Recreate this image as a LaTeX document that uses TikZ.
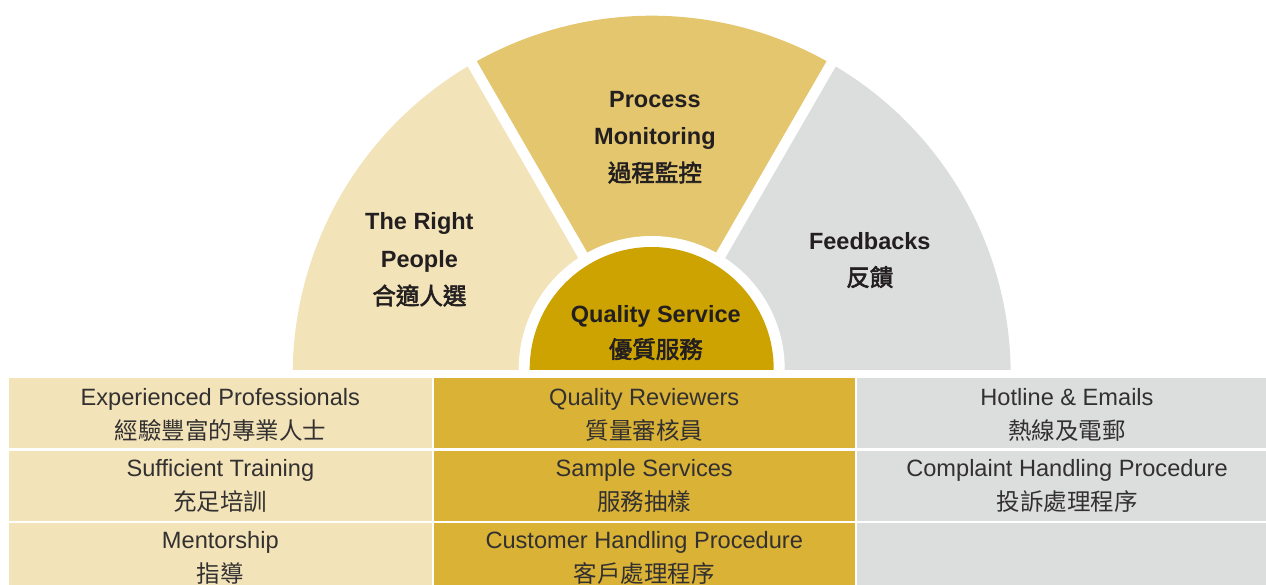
\documentclass[tikz,border=0pt]{standalone}
\usepackage{fontspec}
\setmainfont{Liberation Sans}
\newfontfamily\cjk{Noto Sans CJK TC}
\newfontfamily\cjkb[FakeBold=2.5]{Noto Sans CJK TC}
\definecolor{secL}{HTML}{F2E3B8}
\definecolor{secM}{HTML}{E3C66E}
\definecolor{secR}{HTML}{DCDDDD}
\definecolor{core}{HTML}{CCA300}
\definecolor{colM}{HTML}{D9B236}
\definecolor{txt}{HTML}{231F20}
\definecolor{txtl}{HTML}{333031}
\tikzset{
  lbl/.style={anchor=base,inner sep=0pt,text=txt,font=\fontsize{23.5}{28}\selectfont\bfseries},
  lblz/.style={anchor=base,inner sep=0pt,text=txt,font=\fontsize{23.5}{28}\selectfont\cjkb},
  en/.style={anchor=base,inner sep=0pt,text=txtl,font=\fontsize{23.6}{28}\selectfont},
  zh/.style={anchor=base,inner sep=0pt,text=txtl,font=\fontsize{23.5}{28}\selectfont\cjk},
  cell/.style={draw=none,inner sep=0pt,minimum height=70.3pt},
  cellA/.style={cell,fill=secL,minimum width=422.7pt},
  cellB/.style={cell,fill=colM,minimum width=421.5pt},
  cellC/.style={cell,fill=secR,minimum width=422pt}
}
\begin{document}
\begin{tikzpicture}[x=1pt,y=1pt]
\useasboundingbox (0,0) rectangle (1266,-585);
\coordinate (C) at (651.7,-374.7);
\coordinate (Q) at (651.7,-369);
\begin{scope}
  \clip (0,-369) rectangle (1266,0);
  \fill[secL] (C) -- ++(180:359) arc[start angle=180,end angle=120,radius=359] -- cycle;
  \fill[secM] (C) -- ++(120:359) arc[start angle=120,end angle=60,radius=359] -- cycle;
  \fill[secR] (C) -- ++(60:359) arc[start angle=60,end angle=0,radius=359] -- cycle;
  \draw[white,line width=10.4] (C) -- ++(120:372);
  \draw[white,line width=10.4] (C) -- ++(60:372);
  \fill[white] (Q) circle[radius=133];
  \fill[core] (Q) circle[radius=122];
\end{scope}
% semicircle labels
\node[lbl] (rp1) at (419.4,-230) {The Right};
\node[lbl] (rp2) at (419.4,-267.5) {People};
\node[lblz] (rp3) at (419.4,-304.5) {合適人選};
\node[lbl] (pm1) at (654.9,-107.5) {Process};
\node[lbl] (pm2) at (654.9,-145) {Monitoring};
\node[lblz] (pm3) at (654.9,-181.5) {過程監控};
\node[lbl] (fb1) at (869.8,-250) {Feedbacks};
\node[lblz] (fb2) at (869.8,-286) {反饋};
\node[lbl] (qs1) at (655.8,-322) {Quality Service};
\node[lblz] (qs2) at (655.8,-358) {優質服務};
% table cells
\node[cellA] (a1) at (220.35,-413.15) {};
\node[cellA] (a2) at (220.35,-485.65) {};
\node[cellA] (a3) at (220.35,-557.85) {};
\node[cellB] (b1) at (644.25,-413.15) {};
\node[cellB] (b2) at (644.25,-485.65) {};
\node[cellB] (b3) at (644.25,-557.85) {};
\node[cellC] (c1) at (1068,-413.15) {};
\node[cellC] (c2) at (1068,-485.65) {};
\node[cellC] (c3) at (1068,-557.85) {};
% table texts
\node[en] (a1e) at (220.35,-405) {Experienced Professionals};
\node[zh] (a1z) at (220.35,-439) {經驗豐富的專業人士};
\node[en] (a2e) at (220.35,-476.7) {Sufficient Training};
\node[zh] (a2z) at (220.35,-510.7) {充足培訓};
\node[en] (a3e) at (220.35,-548.3) {Mentorship};
\node[zh] (a3z) at (220.35,-582.3) {指導};
\node[en] (b1e) at (644.25,-405) {Quality Reviewers};
\node[zh] (b1z) at (644.25,-439) {質量審核員};
\node[en] (b2e) at (644.25,-476.7) {Sample Services};
\node[zh] (b2z) at (644.25,-510.7) {服務抽樣};
\node[en] (b3e) at (644.25,-548.3) {Customer Handling Procedure};
\node[zh] (b3z) at (644.25,-582.3) {客戶處理程序};
\node[en] (c1e) at (1067,-405) {Hotline \& Emails};
\node[zh] (c1z) at (1067,-439) {熱線及電郵};
\node[en] (c2e) at (1067,-476.7) {Complaint Handling Procedure};
\node[zh] (c2z) at (1067,-510.7) {投訴處理程序};
\end{tikzpicture}
\end{document}
